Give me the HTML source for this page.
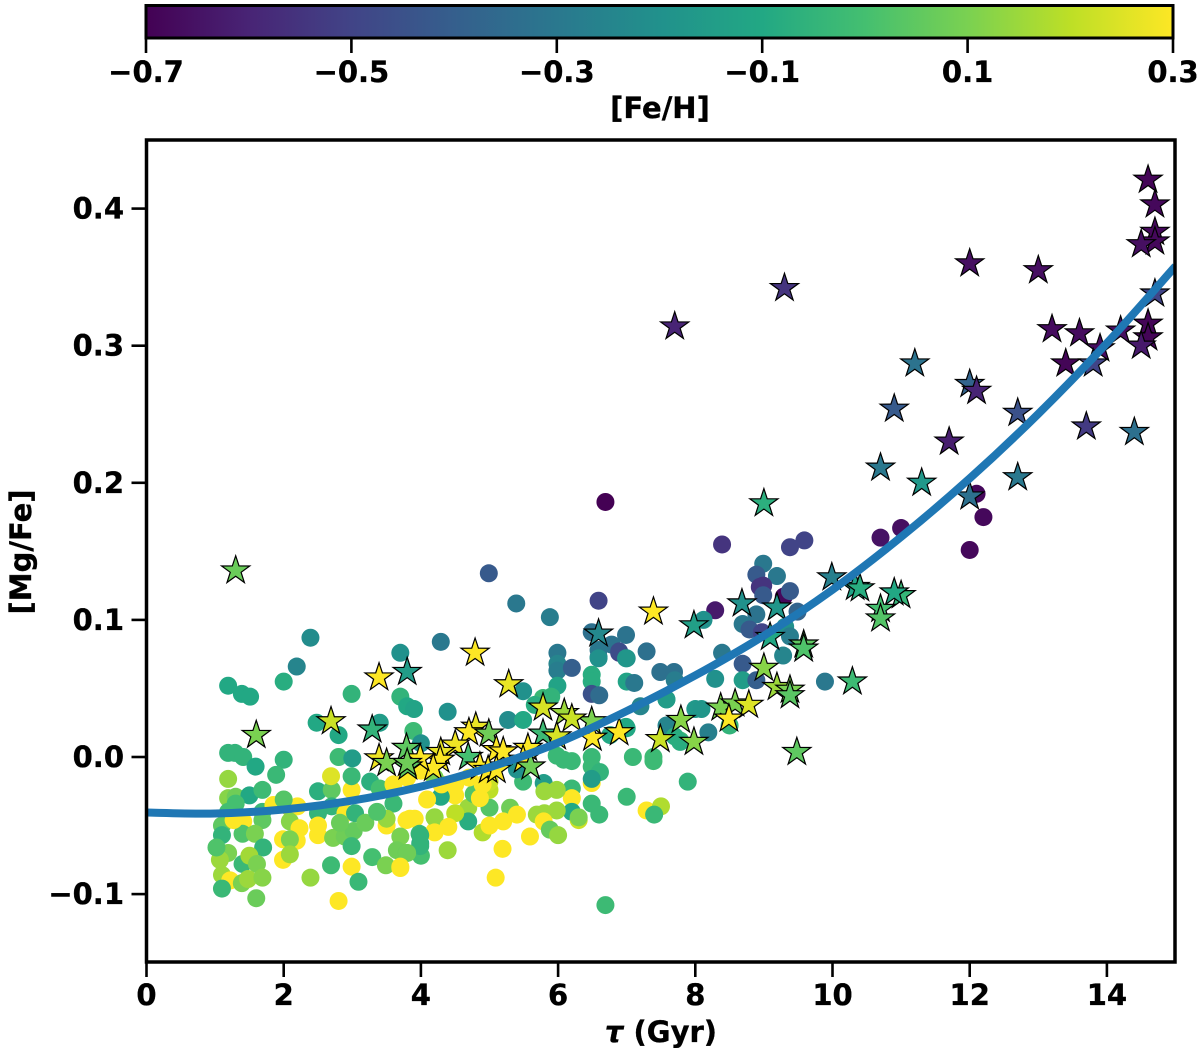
<!DOCTYPE html>
<html lang="en">
<head>
<meta charset="utf-8">
<title>[Mg/Fe] versus stellar age</title>
<style>
html,body{margin:0;padding:0;background:#fff;}
body{width:1200px;height:1048px;overflow:hidden;}
svg{display:block;}
text{font-family:"DejaVu Sans","Liberation Sans",sans-serif;font-weight:bold;font-size:29px;fill:#000;stroke:#000;stroke-width:0.35px;}
</style>
</head>
<body>
<svg id="chart" xmlns="http://www.w3.org/2000/svg" width="1200" height="1048" viewBox="0 0 1200 1048">
<defs>
<linearGradient id="viridis" x1="0" x2="1" y1="0" y2="0">
<stop offset="0" stop-color="#440154"/><stop offset="0.1" stop-color="#482475"/><stop offset="0.2" stop-color="#414487"/><stop offset="0.3" stop-color="#355f8d"/><stop offset="0.4" stop-color="#2a788e"/><stop offset="0.5" stop-color="#21918c"/><stop offset="0.6" stop-color="#22a884"/><stop offset="0.7" stop-color="#44bf70"/><stop offset="0.8" stop-color="#7ad151"/><stop offset="0.9" stop-color="#bddf26"/><stop offset="1" stop-color="#fde725"/>
</linearGradient>
<clipPath id="plot-clip"><rect x="146.5" y="140" width="1028.5" height="822"/></clipPath>
</defs>
<rect x="146" y="5.5" width="1027" height="32.5" fill="url(#viridis)"/>
<g id="colorbar-ticks"></g>
<rect x="146" y="5.5" width="1027" height="32.5" fill="none" stroke="#000" stroke-width="3"/>
<text x="660" y="118" text-anchor="middle">[Fe/H]</text>
<g id="dots" clip-path="url(#plot-clip)"></g>
<g id="stars" clip-path="url(#plot-clip)"></g>
<path id="trend" fill="none" stroke="#1f77b4" stroke-width="8" stroke-linejoin="round" clip-path="url(#plot-clip)"/>
<g id="axis-ticks"></g>
<rect x="146.5" y="140" width="1028.5" height="822" fill="none" stroke="#000" stroke-width="3.5"/>
<text x="661" y="1042" text-anchor="middle"><tspan font-style="italic">τ</tspan> (Gyr)</text>
<text transform="translate(31 552) rotate(-90)" text-anchor="middle">[Mg/Fe]</text>
</svg>
<script>
const dotTau = [
1.19,1.39,1.51,2.0,2.19,2.99,3.7,3.7,3.8,3.9,
3.89,4.0,2.48,2.8,3.4,1.19,1.29,1.41,1.59,2.0,
1.89,2.8,3.0,1.19,1.19,1.3,1.5,1.69,2.0,1.69,
1.3,2.5,2.7,2.69,2.99,2.99,3.26,3.4,3.6,1.85,
2.09,2.2,2.0,2.5,2.7,2.9,3.04,2.09,1.19,1.41,
1.69,1.1,1.1,1.4,1.58,2.23,2.19,1.99,2.09,2.5,
2.5,2.72,2.89,3.02,2.82,3.19,2.99,3.5,3.5,3.36,
3.79,3.91,3.7,3.98,3.99,4.2,4.2,1.7,1.19,1.07,
1.4,1.5,1.61,1.99,2.09,1.1,1.22,1.39,1.48,1.69,
1.1,1.6,2.39,2.69,2.99,3.09,2.8,3.29,3.49,3.7,
3.65,3.79,4.0,4.29,5.99,5.99,5.99,6.2,6.59,6.89,
7.0,7.29,6.49,6.49,5.99,6.49,6.6,7.0,7.11,7.49,
7.69,5.49,5.78,5.9,5.66,7.2,7.58,4.39,8.0,5.27,
5.49,7.6,7.0,6.76,7.78,5.98,6.08,6.2,6.49,6.49,
6.61,7.09,7.39,7.39,7.89,6.49,6.49,5.79,5.49,5.4,
7.0,6.49,6.6,6.2,6.2,6.2,5.8,5.98,6.3,6.3,
5.69,5.8,5.98,5.79,5.88,6.0,5.59,5.3,5.4,5.2,
5.0,4.9,5.0,4.69,4.69,4.5,4.5,4.2,4.4,4.2,
4.39,3.99,3.99,3.8,5.19,5.09,6.69,7.29,7.5,7.4,
4.29,4.09,4.77,5.0,4.86,3.84,3.7,6.69,8.39,9.38,
9.59,8.99,8.89,9.19,8.94,8.99,8.99,9.29,9.38,6.59,
8.29,8.12,9.49,8.89,8.69,8.79,8.97,9.31,9.38,6.49,
6.99,6.78,6.89,6.99,6.59,6.59,8.39,9.28,8.69,7.7,
8.29,8.69,8.89,9.89,7.58,8.09,7.58,8.19,7.7,7.78,
8.5,6.99,5.39,4.99,5.88,2.39,12.1,12.2,12.0,10.7,
11.0,3.6,3.8,4.0,4.3,4.5,4.7,5.0,4.9,4.2,
1.02,1.27
];
const dotMg = [
.052,.046,.044,.055,.066,.046,.076,.044,.037,.035,
.019,.01,.025,.016,.025,.003,.003,0,-.007,-.002,
-.013,0,-.001,-.016,-.03,-.029,-.028,-.024,-.033,-.04,
-.034,-.025,-.024,-.014,-.024,-.014,-.018,-.023,-.034,-.035,
-.037,-.036,-.031,-.041,-.036,-.041,-.041,-.047,-.04,-.047,
-.046,-.05,-.057,-.056,-.056,-.052,-.061,-.06,-.06,-.057,
-.05,-.059,-.058,-.054,-.048,-.048,-.065,-.05,-.045,-.04,
-.046,-.045,-.058,-.056,-.063,-.044,-.054,-.066,-.07,-.075,
-.078,-.072,-.078,-.075,-.071,-.086,-.09,-.092,-.089,-.088,
-.096,-.103,-.088,-.079,-.08,-.091,-.105,-.073,-.079,-.081,
-.068,-.07,-.072,.084,.076,.068,.063,.065,.073,.076,
.072,.077,.06,.055,.052,.046,.045,.055,.054,.062,
.062,.048,.043,.044,.038,.037,.042,.033,.035,.027,
.027,.022,.021,.016,.012,.001,-.002,-.003,0,-.007,
-.011,0,0,-.003,-.018,-.019,-.016,-.019,-.018,-.009,
-.029,-.034,-.042,-.023,-.03,-.04,-.025,-.024,-.046,-.044,
-.042,-.041,-.039,-.047,-.053,-.057,-.058,-.037,-.042,-.047,
-.037,-.055,-.05,-.037,-.047,-.041,-.028,-.044,-.051,-.055,
-.068,-.057,-.065,-.07,-.067,-.088,-.108,-.039,-.036,-.042,
-.029,-.031,-.027,-.024,-.03,-.045,-.08,.186,.155,.153,
.158,.141,.133,.132,.124,.125,.118,.117,.121,.114,
.107,.1,.106,.104,.097,.093,.091,.095,.088,.091,
.089,.082,.077,.072,.078,.072,.076,.074,.068,.056,
.057,.056,.056,.055,.042,.035,.023,.018,.015,.011,
.023,.022,.112,.134,.102,.087,.192,.175,.151,.16,
.167,-.02,-.015,-.01,-.02,-.02,-.015,-.018,-.02,-.015,
-.066,-.046
];
const dotFe = [
-.1,-.1,-.1,-.08,-.25,-.05,-.2,-.05,-.1,-.12,
-.02,-.2,-.1,-.1,-.15,-.05,-.05,-.05,-.1,-.05,
-.03,-.02,-.15,.14,.12,.08,-.1,-.02,-.03,-.03,
0,-.07,.05,.25,.3,-.03,-.07,0,-.03,.3,
.2,.3,.03,-.05,-.05,.3,-.05,.12,0,.3,
.05,.05,-.05,.02,.1,.3,.3,.3,.1,.3,
.3,.1,.08,.06,.07,.07,-.03,.3,.14,.02,
.3,.3,.1,-.03,-.08,.1,.3,-.05,.1,.15,
-.03,.16,.1,.3,.15,.15,.3,.1,.15,.12,
-.03,.07,.14,-.02,.3,-.03,.3,0,.1,.3,
.08,.07,0,-.3,-.3,-.25,-.28,-.4,-.22,-.5,
-.22,-.33,-.08,-.08,-.12,-.45,-.35,-.12,-.3,-.33,
-.33,-.2,-.03,-.05,-.08,-.25,-.1,-.2,-.17,-.22,
-.1,-.28,-.1,-.1,-.03,-.03,-.03,-.03,-.03,-.03,
-.05,-.03,-.02,-.02,-.05,.3,-.15,-.15,-.02,-.2,
-.03,-.03,-.03,-.03,.3,-.1,.15,.15,.22,.1,
.15,.15,.15,.3,.06,.14,.3,.08,.3,.3,
.03,.18,.3,.15,-.08,.2,.3,.14,.3,.3,
.15,-.05,-.05,.08,.3,.3,-.02,.3,.18,-.03,
-.1,.3,.02,.2,.3,.3,.3,-.7,-.55,-.5,
-.5,-.3,-.42,-.3,-.55,-.55,-.42,-.68,-.42,-.5,
-.63,-.2,-.38,-.32,-.3,-.42,-.5,-.2,-.28,-.33,
-.32,-.32,-.47,-.18,-.3,-.2,-.3,-.25,-.42,-.28,
-.2,-.15,-.4,-.3,-.15,-.18,-.25,-.27,-.08,-.08,
-.05,-.1,-.3,-.42,-.28,-.22,-.68,-.68,-.68,-.65,
-.66,.3,.3,.3,.3,.3,.3,.22,.3,.1,
.02,.3
];
const starTau = [
14.6,14.7,14.7,14.7,14.5,12,13,14.7,9.3,7.7,
13.2,13.6,14.2,14.6,14.6,14.5,13.9,13.4,13.8,11.2,
12,12.1,10.9,12.7,13.7,14.4,11.7,10.7,12.7,11.3,
12,9,1.3,9.99,10.33,10.4,11,10.9,10.7,10.7,
8.68,9.19,7.39,7.98,6.59,9.09,9.58,9.58,9,3.8,
3.39,4.79,5.28,10.29,9.19,9.38,9.38,8.37,8.58,8.78,
8.49,7.79,7.49,7.98,6.89,6.5,6.49,9.48,5.78,6.09,
6.2,5.78,5.98,4.8,4.7,4.99,4.5,4.29,4.69,4.28,
4.18,5.1,5.2,5.56,5.49,5.6,4.86,4.98,5.1,3.79,
3.99,3.81,2.69,1.6,3.29,3.39,3.5,3.8
];
const starMg = [
.421,.403,.383,.376,.374,.36,.355,.338,.342,.314,
.312,.309,.311,.316,.306,.3,.298,.287,.287,.287,
.272,.267,.254,.251,.241,.237,.23,.211,.204,.2,
.19,.185,.136,.131,.124,.123,.118,.12,.108,.101,
.112,.109,.106,.096,.09,.0875,.082,.079,.065,.062,
.058,.076,.053,.055,.051,.049,.045,.036,.039,.038,
.028,.027,.013,.011,.018,.014,.026,.0036,.036,.032,
.028,.017,.015,.022,.018,.017,.009,.0036,0,-.002,
-.008,.005,.004,.0066,-.002,-.007,-.007,-.0095,-.0095,.0066,
-.001,-.007,.026,.016,.02,-.001,-.0044,-.0044
];
const starFe = [
-.69,-.68,-.68,-.68,-.66,-.66,-.66,-.5,-.55,-.6,
-.67,-.67,-.66,-.69,-.69,-.63,-.67,-.69,-.5,-.32,
-.38,-.6,-.42,-.45,-.53,-.33,-.62,-.3,-.3,-.17,
-.33,-.07,.07,-.27,-.12,-.08,-.04,-.1,0,.03,
-.2,-.18,.3,-.14,-.23,-.1,.05,.02,.12,-.15,
.3,.3,.27,-.02,.15,.1,.04,.1,.1,.25,
.3,.12,.22,.12,.3,.3,.1,.05,.24,.15,
.22,-.02,.24,.27,.3,.08,.28,.27,0,.3,
.3,.3,.3,.3,.3,.08,.3,.3,.3,.05,
.3,.05,.22,.1,-.05,.28,.1,.08
];
const curveTau = [0,1,2,3,4,5,6,7,8,9,10,11,12,13,14,15];
const curveMg = [-.0405,-.0412,-.0383,-.0318,-.0216,-.0075,.0104,.0335,.0595,.0885,.122,.1605,.2032,.2503,.3019,.358];
const xTicks = [0,2,4,6,8,10,12,14];
const yTicks = [-0.1,0,0.1,0.2,0.3,0.4];
const yTickLabels = ['\u22120.1','0.0','0.1','0.2','0.3','0.4'];
const cbTicks = [-0.7,-0.5,-0.3,-0.1,0.1,0.3];
const cbTickLabels = ['\u22120.7','\u22120.5','\u22120.3','\u22120.1','0.1','0.3'];

const NS = 'http://www.w3.org/2000/svg';
const xAxis = v => 146.5 + v * 68.6;
const yAxis = v => 757 - v * 1371;
const cbAxis = v => 146 + (v + 0.7) * 1027;
const VIRIDIS = ['#440154','#482475','#414487','#355f8d','#2a788e','#21918c','#22a884','#44bf70','#7ad151','#bddf26','#fde725'];
function hex(c){return [1,3,5].map(i=>parseInt(c.substr(i,2),16));}
function colour(fe){
  let t = Math.max(0, Math.min(1, fe + 0.7)) * 10;
  const i = Math.min(9, Math.floor(t));
  t -= i;
  const a = hex(VIRIDIS[i]), b = hex(VIRIDIS[i+1]);
  return 'rgb(' + a.map((v,k)=>Math.round(v+(b[k]-v)*t)).join(',') + ')';
}
function make(tag, parent, attrs){
  const el = document.createElementNS(NS, tag);
  for (const k in attrs) el.setAttribute(k, attrs[k]);
  parent.appendChild(el);
  return el;
}

const dotLayer = document.getElementById('dots');
dotTau.forEach((t,i)=>{
  const el = make('circle', dotLayer, {cx:xAxis(t), cy:yAxis(dotMg[i]), r:9, fill:colour(dotFe[i])});
  
  
});

const starLayer = document.getElementById('stars');
function starPoints(cx, cy){
  const pts = [];
  for (let k = 0; k < 10; k++){
    const r = k % 2 ? 5.7 : 14.8;
    const a = -Math.PI / 2 + k * Math.PI / 5;
    pts.push((cx + r * Math.cos(a)).toFixed(2) + ',' + (cy + r * Math.sin(a)).toFixed(2));
  }
  return pts.join(' ');
}
starTau.forEach((t,i)=>{
  const el = make('polygon', starLayer, {points:starPoints(xAxis(t), yAxis(starMg[i])), fill:colour(starFe[i]), stroke:'#000', 'stroke-width':1.2, 'stroke-linejoin':'miter'});
  
  
});

let d = '';
const px = curveTau.map(xAxis), py = curveMg.map(yAxis);
px.forEach((x,i)=>{
  if (i === 0){ d = 'M' + x + ' ' + py[0]; return; }
  const p0 = Math.max(0,i-2), p3 = Math.min(px.length-1,i+1);
  const c1x = px[i-1] + (x - px[p0]) / 6, c1y = py[i-1] + (py[i] - py[p0]) / 6;
  const c2x = x - (px[p3] - px[i-1]) / 6, c2y = py[i] - (py[p3] - py[i-1]) / 6;
  d += ' C' + [c1x,c1y,c2x,c2y,x,py[i]].map(n=>n.toFixed(2)).join(' ');
});
document.getElementById('trend').setAttribute('d', d);

const tickLayer = document.getElementById('axis-ticks');
xTicks.forEach(v=>{
  const x = xAxis(v);
  const tk = make('line', tickLayer, {x1:x, x2:x, y1:962, y2:977, stroke:'#000', 'stroke-width':2.6});
  
  
  const lb = make('text', tickLayer, {x:x, y:1005, 'text-anchor':'middle'});
  lb.textContent = String(v);
  
  
});
yTicks.forEach((v,i)=>{
  const y = yAxis(v);
  const tk = make('line', tickLayer, {x1:131.5, x2:146.5, y1:y, y2:y, stroke:'#000', 'stroke-width':2.6});
  
  
  const lb = make('text', tickLayer, {x:124, y:y+10, 'text-anchor':'end'});
  lb.textContent = yTickLabels[i];
  
  
});
const cbLayer = document.getElementById('colorbar-ticks');
cbTicks.forEach((v,i)=>{
  const x = cbAxis(v);
  const tk = make('line', cbLayer, {x1:x, x2:x, y1:38, y2:53, stroke:'#000', 'stroke-width':2.6});
  
  
  const lb = make('text', cbLayer, {x:x, y:82, 'text-anchor':'middle'});
  lb.textContent = cbTickLabels[i];
  
  
});
</script>
</body>
</html>
